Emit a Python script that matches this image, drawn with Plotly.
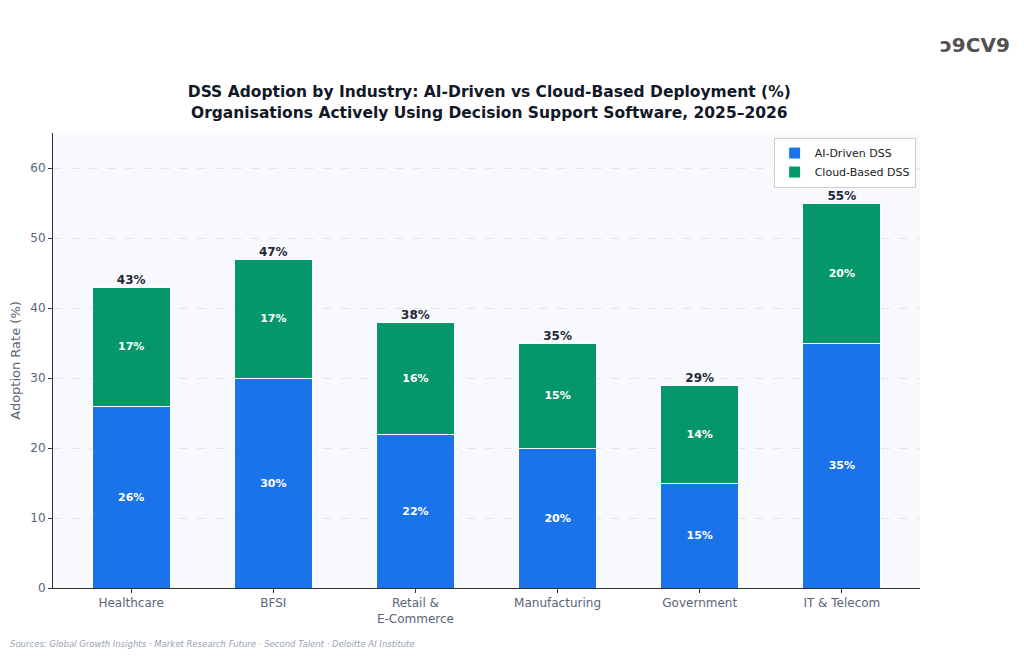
import plotly.graph_objects as go

categories = ["Healthcare", "BFSI", "Retail &<br>E-Commerce", "Manufacturing", "Government", "IT & Telecom"]
ai_driven = [26, 30, 22, 20, 15, 35]
cloud_based = [17, 17, 16, 15, 14, 20]
totals = [43, 47, 38, 35, 29, 55]

fig = go.Figure()
fig.add_bar(x=categories, y=ai_driven, name="AI-Driven DSS", marker_color="#1a73e8",
            marker_line_color="white", marker_line_width=1,
            text=[f"<b>{v}%</b>" for v in ai_driven], textposition="inside", insidetextanchor="middle",
            textfont=dict(color="white", size=11, family="DejaVu Sans"), width=0.55)
fig.add_bar(x=categories, y=cloud_based, name="Cloud-Based DSS", marker_color="#059669",
            marker_line_color="white", marker_line_width=1,
            text=[f"<b>{v}%</b>" for v in cloud_based], textposition="inside", insidetextanchor="middle",
            textfont=dict(color="white", size=11, family="DejaVu Sans"), width=0.55)
fig.add_scatter(x=categories, y=totals, mode="text", text=[f"<b>{v}%</b>" for v in totals],
                textposition="top center", textfont=dict(color="#1f2937", size=12, family="DejaVu Sans"),
                showlegend=False, hoverinfo="skip")

fig.update_layout(
    barmode="stack", width=1024, height=657,
    paper_bgcolor="white", plot_bgcolor="#f8f9fd",
    font=dict(family="DejaVu Sans", color="#5a6478"),
    margin=dict(l=45, r=112, t=125, b=77, autoexpand=False),
    title=dict(text="<b>DSS Adoption by Industry: AI-Driven vs Cloud-Based Deployment (%)<br>Organisations Actively Using Decision Support Software, 2025–2026</b>",
               x=0.47, xanchor="center", y=0.864, yref="container", yanchor="middle",
               font=dict(size=15.5, color="#111827")),
    legend=dict(x=0.995, y=0.99, xanchor="right", yanchor="top", bgcolor="white", traceorder="normal",
                bordercolor="#cccccc", borderwidth=1, font=dict(size=11, color="#222")),
    showlegend=True,
)
fig.update_yaxes(range=[0, 65], dtick=10, gridcolor="#e3e6ee", griddash="dash", zeroline=False, automargin=False,
                 showline=True, linecolor="#333", title=dict(text="Adoption Rate (%)", font=dict(size=13), standoff=8),
                 tickfont=dict(size=12), ticks="outside", ticklen=4, tickcolor="#333")
fig.update_xaxes(range=[-0.55, 5.55], showline=True, linecolor="#333", tickfont=dict(size=12), ticks="outside",
                 ticklen=4, tickcolor="#333", automargin=False)

fig.add_annotation(text="<i>Sources: Global Growth Insights · Market Research Future · Second Talent · Deloitte AI Institute</i>",
                   xref="paper", yref="paper", x=-0.052, y=-0.123, xanchor="left", yanchor="middle",
                   showarrow=False, font=dict(size=8.5, color="#9aa3b5", family="DejaVu Sans"))
fig.add_annotation(text="<b>ↄ9CV9</b>", xref="paper", yref="paper", x=1.106, y=1.193,
                   xanchor="right", yanchor="middle", showarrow=False,
                   font=dict(size=20, color="#555050"))
fig.write_html("out.html")
